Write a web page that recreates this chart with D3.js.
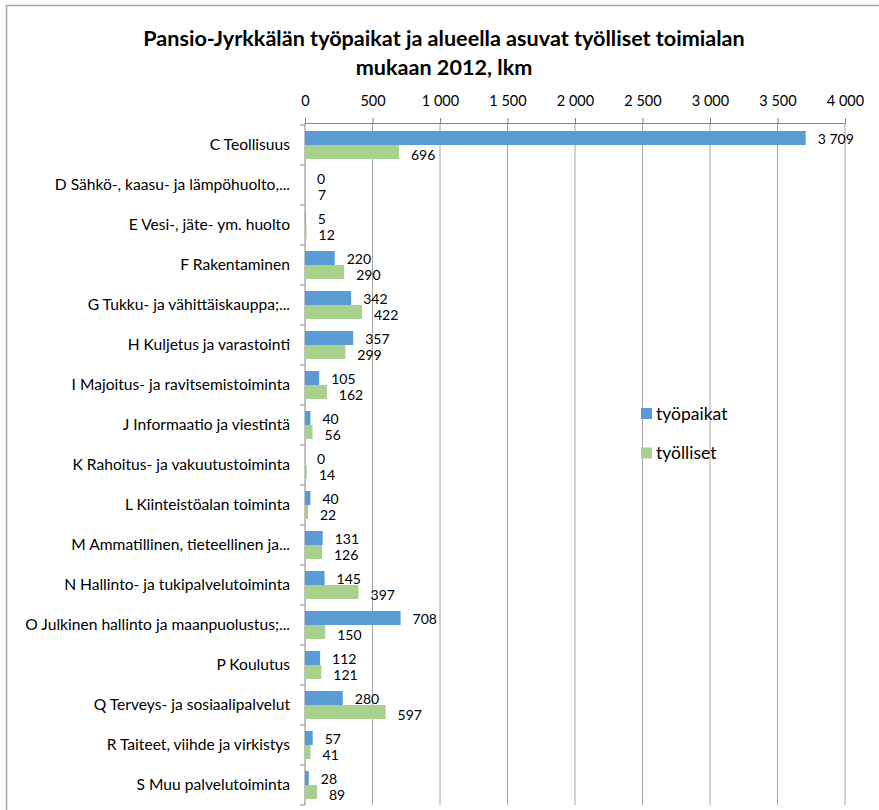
<!DOCTYPE html>
<html>
<head>
<meta charset="utf-8">
<script src="https://cdn.jsdelivr.net/npm/d3@7"></script>
<style>
  html, body { margin: 0; padding: 0; background: #fff; }
  svg { display: block; }
  text { font-family: Lato, "Open Sans", sans-serif; fill: #000; }
</style>
</head>
<body>
<svg id="chart" width="879" height="810"></svg>
<script>
const categories = [
  "C Teollisuus",
  "D Sähkö-, kaasu- ja lämpöhuolto,...",
  "E Vesi-, jäte- ym. huolto",
  "F Rakentaminen",
  "G Tukku- ja vähittäiskauppa;...",
  "H Kuljetus ja varastointi",
  "I Majoitus- ja ravitsemistoiminta",
  "J Informaatio ja viestintä",
  "K Rahoitus- ja vakuutustoiminta",
  "L Kiinteistöalan toiminta",
  "M Ammatillinen, tieteellinen ja...",
  "N Hallinto- ja tukipalvelutoiminta",
  "O Julkinen hallinto ja maanpuolustus;...",
  "P Koulutus",
  "Q Terveys- ja sosiaalipalvelut",
  "R Taiteet, viihde ja virkistys",
  "S Muu palvelutoiminta"
];
const tyopaikat = [3709, 0, 5, 220, 342, 357, 105, 40, 0, 40, 131, 145, 708, 112, 280, 57, 28];
const tyolliset = [696, 7, 12, 290, 422, 299, 162, 56, 14, 22, 126, 397, 150, 121, 597, 41, 89];
const seriesNames = ["työpaikat", "työlliset"];
const seriesColors = ["#5b9bd5", "#a9d18e"];
const tickValues = [0, 500, 1000, 1500, 2000, 2500, 3000, 3500, 4000];
const titleLines = ["Pansio-Jyrkkälän työpaikat ja alueella asuvat työlliset toimialan", "mukaan 2012, lkm"];

const locale = d3.formatLocale({decimal: ",", thousands: "\u00a0", grouping: [3], currency: ["", " €"]});
const fmt = locale.format(",d");

const svg = d3.select("#chart");

// chart border (outer frame)
svg.append("path")
  .attr("d", "M6.5,900 V5.5 H900")
  .attr("fill", "none")
  .attr("stroke", "#a6a6a6")
  .attr("stroke-width", 1.5);

// title
svg.append("g").selectAll("text").data(titleLines).join("text")
  .attr("x", 444)
  .attr("y", (d, i) => 46 + i * 29)
  .attr("text-anchor", "middle")
  .attr("font-size", 21.6)
  .attr("font-weight", "bold")
  .text(d => d);

const x0 = 305, x1 = 845, yAxis = 123, yTop = 125, yBot = 805;
const x = d3.scaleLinear().domain([0, 4000]).range([x0, x1]);
const y = d3.scaleBand().domain(categories).range([yTop, yBot]).paddingInner(0.3).paddingOuter(0.15);
const yOuter = d3.scaleBand().domain(categories).range([yTop, yBot]);
const ySub = d3.scaleBand().domain(seriesNames).range([0, y.bandwidth()]);

// gridlines
svg.append("g").selectAll("line").data(tickValues.slice(1)).join("line")
  .attr("x1", d => x(d)).attr("x2", d => x(d))
  .attr("y1", yAxis).attr("y2", yBot)
  .attr("stroke", "#a6a6a6").attr("stroke-width", 1);

// top axis
const xAxis = d3.axisTop(x).tickValues(tickValues).tickFormat(fmt).tickSize(5).tickPadding(12);
const gx = svg.append("g").attr("transform", `translate(0,${yAxis})`).call(xAxis);
gx.select(".domain").attr("stroke", "#868686");
gx.selectAll(".tick line").attr("stroke", "#868686");
gx.selectAll(".tick text").attr("font-size", 14.5).attr("font-family", "Lato, sans-serif").attr("fill", "#000");

// left axis
svg.append("line").attr("x1", x0).attr("x2", x0).attr("y1", yAxis).attr("y2", yBot)
  .attr("stroke", "#868686");
const boundaries = categories.map(c => yOuter(c)).concat([yBot]);
svg.append("g").selectAll("line").data(boundaries).join("line")
  .attr("x1", x0 - 5).attr("x2", x0)
  .attr("y1", d => d).attr("y2", d => d)
  .attr("stroke", "#868686");

// category labels
svg.append("g").selectAll("text").data(categories).join("text")
  .attr("x", 290)
  .attr("y", d => yOuter(d) + yOuter.bandwidth() / 2)
  .attr("dy", "0.35em")
  .attr("text-anchor", "end")
  .attr("font-size", 15.6)
  .text(d => d);

// bars
const seriesData = [tyopaikat, tyolliset];
const labelShift = [1, 3];
seriesData.forEach((vals, si) => {
  const g = svg.append("g");
  g.selectAll("rect").data(categories).join("rect")
    .attr("x", x0)
    .attr("y", (c) => y(c) + ySub(seriesNames[si]))
    .attr("width", (c, i) => x(vals[i]) - x0)
    .attr("height", ySub.bandwidth())
    .attr("fill", seriesColors[si]);
  g.selectAll("text").data(categories).join("text")
    .attr("x", (c, i) => x(vals[i]) + 12)
    .attr("y", (c) => y(c) + ySub(seriesNames[si]) + ySub.bandwidth() / 2 + labelShift[si])
    .attr("dy", "0.35em")
    .attr("font-size", 14)
    .text((c, i) => fmt(vals[i]));
});

// legend
const legend = svg.append("g").selectAll("g").data(seriesNames).join("g")
  .attr("transform", (d, i) => `translate(641,${408 + i * 39.5})`);
legend.append("rect").attr("width", 11).attr("height", 11)
  .attr("fill", (d, i) => seriesColors[i]);
legend.append("text").attr("x", 15).attr("y", 5.5).attr("dy", "0.35em")
  .attr("font-size", 17.5).text(d => d);
</script>
</body>
</html>
